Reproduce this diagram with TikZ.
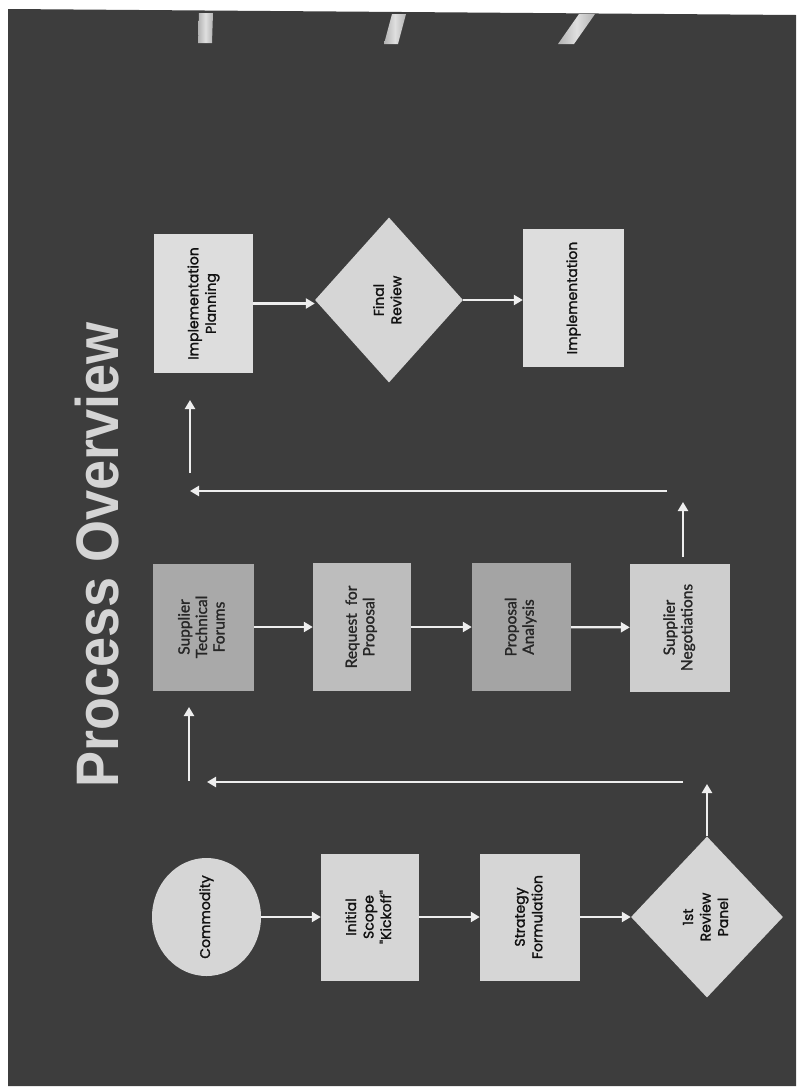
\documentclass[tikz,border=0pt]{standalone}
\usepackage{fontspec}
\setmainfont{Liberation Sans}
\newfontfamily\roundfont{Poppins}[FakeBold=1.6]
\newfontfamily\humanfont{Lato}[FakeBold=1.4]
\usetikzlibrary{arrows.meta,shapes.geometric}

\definecolor{slidebg}{HTML}{3D3D3D}
\definecolor{arrowc}{HTML}{EEEEEE}
\definecolor{titlec}{HTML}{D4D4D4}
\definecolor{paleA}{HTML}{D6D6D6}
\definecolor{paleB}{HTML}{DDDDDD}
\definecolor{midA}{HTML}{A9A9A9}
\definecolor{midB}{HTML}{BDBDBD}
\definecolor{midC}{HTML}{A4A4A4}
\definecolor{midD}{HTML}{CECECE}
\definecolor{inkA}{HTML}{111111}
\definecolor{inkB}{HTML}{262626}

% rotated multi-line label (reads bottom to top)
\newcommand{\uptext}[1]{\rotatebox{90}{\begin{tabular}{@{}c@{}}#1\end{tabular}}}

\tikzset{
  procbox/.style={rectangle, draw=none, inner sep=0pt},
  decisionbox/.style={diamond, draw=none, inner sep=0pt},
  startbox/.style={ellipse, draw=none, inner sep=0pt},
  roundlbl/.style={text=inkA, font=\roundfont\fontsize{14}{17.5}\selectfont},
  humanlbl/.style={text=inkB, font=\humanfont\fontsize{15.5}{17.5}\selectfont},
  flow/.style={draw=arrowc, line width=2.2pt, -{Triangle[length=9pt,width=10pt]}},
}

\begin{document}
\begin{tikzpicture}[x=1pt,y=-1pt]
\useasboundingbox (0,0) rectangle (796,1090);
\fill[white] (0,0) rectangle (796,1090);
\fill[slidebg] (8,9) -- (796,15) -- (796,1086) -- (8,1086) -- cycle;

% light streaks along the top edge
\shade[left color=gray!60, right color=gray!60, middle color=gray!25]
  (199,13) -- (213,13) -- (212,43) -- (198,43) -- cycle;
\shade[left color=gray!60, right color=gray!60, middle color=gray!25]
  (392,14) -- (406,14) -- (398,44) -- (384,44) -- cycle;
\shade[left color=gray!60, right color=gray!60, middle color=gray!25]
  (579,14) -- (595,14) -- (574,44) -- (558,44) -- cycle;

% title
\node[text=titlec, inner sep=0pt, font=\bfseries\fontsize{60}{60}\selectfont]
  (title) at (97.5,555) {\rotatebox{90}{\scalebox{0.9}[1]{Process Overview}}};

% first row
\node[startbox, fill=paleA, minimum width=109pt, minimum height=118pt, roundlbl]
  (com) at (206.5,917) {\uptext{Commodity}};
\node[procbox, fill=paleA, minimum width=98pt, minimum height=127pt, roundlbl]
  (isk) at (370,917) {\uptext{Initial\\Scope\\"Kickoff"}};
\node[procbox, fill=paleA, minimum width=100pt, minimum height=127pt, roundlbl]
  (sf) at (530,917) {\uptext{Strategy\\Formulation}};
\node[decisionbox, fill=paleA, minimum width=152pt, minimum height=161pt, roundlbl]
  (rp) at (707,917) {\uptext{1st\\Review\\Panel}};

% second row
\node[procbox, fill=midA, minimum width=101pt, minimum height=127pt, humanlbl]
  (stf) at (203.5,627) {\uptext{Supplier\\Technical\\Forums}};
\node[procbox, fill=midB, minimum width=98pt, minimum height=128pt, humanlbl]
  (rfp) at (362,627) {\uptext{Request\ \ for\\Proposal}};
\node[procbox, fill=midC, minimum width=99pt, minimum height=128pt, humanlbl]
  (pa) at (521.5,627) {\uptext{Proposal\\Analysis}};
\node[procbox, fill=midD, minimum width=100pt, minimum height=128pt, humanlbl]
  (sn) at (680,627.5) {\uptext{Supplier\\Negotiations}};

% third row
\node[procbox, fill=paleB, minimum width=99pt, minimum height=139pt, roundlbl]
  (ip) at (203.5,303.5) {\uptext{Implementation\\Planning}};
\node[decisionbox, fill=paleA, minimum width=148pt, minimum height=165pt, roundlbl]
  (fr) at (389,300) {\uptext{Final\\Review}};
\node[procbox, fill=paleB, minimum width=101pt, minimum height=138pt, roundlbl]
  (impl) at (573.5,298) {\uptext{Implementation}};

% flow inside the rows
\draw[flow] (com) -- (isk);
\draw[flow] (isk) -- (sf);
\draw[flow] (sf) -- (rp);
\draw[flow] (stf) -- (rfp);
\draw[flow] (rfp) -- (pa);
\draw[flow] (pa) -- (sn);
\draw[flow] (ip.east) -- (ip.east -| fr.west);
\draw[flow] (fr.east) -- (impl.west |- fr.east);

% hand-over from the first row to the second
\coordinate (upA) at (707,784);
\coordinate (backAs) at (683,782);
\coordinate (backAe) at (207,782);
\coordinate (riseAs) at (189,781);
\coordinate (riseAe) at (189,707);
\draw[flow] (rp.north) -- (upA);
\draw[flow] (backAs) -- (backAe);
\draw[flow] (riseAs) -- (riseAe);

% hand-over from the second row to the third
\coordinate (upBs) at (683,557);
\coordinate (upBe) at (683,502);
\coordinate (backBs) at (667,491);
\coordinate (backBe) at (190,491);
\coordinate (riseBs) at (190,473);
\coordinate (riseBe) at (190,400);
\draw[flow] (upBs) -- (upBe);
\draw[flow] (backBs) -- (backBe);
\draw[flow] (riseBs) -- (riseBe);
\end{tikzpicture}
\end{document}
